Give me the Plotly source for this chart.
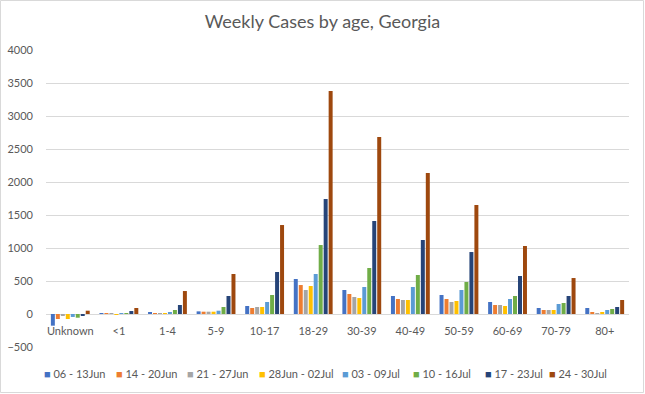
import plotly.graph_objects as go

categories = ["Unknown", "<1", "1-4", "5-9", "10-17", "18-29", "30-39", "40-49", "50-59", "60-69", "70-79", "80+"]
series_names = ["06 - 13Jun", "14 - 20Jun", "21 - 27Jun", "28Jun - 02Jul", "03 - 09Jul", "10 - 16Jul", "17 - 23Jul", "24 - 30Jul"]

w0613jun = [-177, 2, 30, 40, 121, 530, 364, 273, 288, 182, 91, 91]
w1420jun = [-76, 1, 15, 35, 91, 439, 303, 227, 227, 136, 61, 30]
w2127jun = [-25, 1, 15, 35, 106, 364, 258, 212, 182, 136, 61, 15]
w28jun02jul = [-76, -15, 15, 35, 106, 424, 242, 212, 197, 121, 61, 30]
w0309jul = [-45, 3, 20, 50, 182, 606, 409, 409, 364, 227, 152, 61]
w1016jul = [-56, 15, 61, 106, 288, 1045, 697, 591, 485, 273, 167, 76]
w1723jul = [-25, 45, 136, 273, 636, 1742, 1409, 1121, 939, 576, 273, 106]
w2430jul = [50, 91, 348, 606, 1348, 3379, 2682, 2136, 1652, 1030, 545, 212]

series_values = [w0613jun, w1420jun, w2127jun, w28jun02jul, w0309jul, w1016jul, w1723jul, w2430jul]
colors = ["#4472C4", "#ED7D31", "#A5A5A5", "#FFC000", "#5B9BD5", "#70AD47", "#264478", "#9E480E"]

W, H = 645, 394
L, R, T, B = 46, 16, 50, 47
PW, PH = W - L - R, H - T - B

fig = go.Figure()
for name, vals, col in zip(series_names, series_values, colors):
    fig.add_trace(go.Bar(x=categories, y=vals, name=name, marker=dict(color=col, line=dict(width=0))))

font_family = "Lato, 'Open Sans', sans-serif"

# custom legend row (Excel style: small square then label)
legend_px = [42, 114, 185, 257, 340, 411, 483, 547]
annotations = []
for name, col, px in zip(series_names, colors, legend_px):
    annotations.append(dict(
        xref="paper", yref="paper", x=(px - L) / PW, y=-(373 - (H - B)) / PH,
        xanchor="left", yanchor="middle", showarrow=False,
        text=f'<span style="color:{col}">■</span> {name}',
        font=dict(family=font_family, size=11, color="#595959"),
    ))

fig.update_layout(
    width=W, height=H,
    margin=dict(l=L, r=R, t=T, b=B, autoexpand=False),
    paper_bgcolor="white", plot_bgcolor="white",
    barmode="group", bargap=0.18, bargroupgap=0.2,
    title=dict(text="Weekly Cases by age, Georgia", x=0.5, xanchor="center",
               y=1 - 22 / H, yanchor="middle", yref="container",
               font=dict(family=font_family, size=18, color="#595959")),
    font=dict(family=font_family, size=11, color="#595959"),
    showlegend=False,
    xaxis=dict(anchor="free", position=500 / 4500, showline=False, showgrid=False, ticks="",
               tickfont=dict(size=11, color="#595959"), ticklabelstandoff=9),
    yaxis=dict(range=[-500, 4000], dtick=500, tick0=0, showgrid=True, gridcolor="#D9D9D9", gridwidth=1,
               zeroline=False, showline=False, ticks="", tickfont=dict(size=11, color="#595959"),
               ticklabelstandoff=12),
    annotations=annotations,
    shapes=[dict(type="rect", xref="paper", yref="paper",
                 x0=-(L - 0.5) / PW, x1=1 + (R - 1.5) / PW, y0=-(B - 1.5) / PH, y1=1 + (T - 0.5) / PH,
                 line=dict(color="#D9D9D9", width=1), fillcolor="rgba(0,0,0,0)", layer="below")],
)

fig.write_html("out.html", config={"displayModeBar": False},
               post_script="document.body.style.margin='0';document.body.style.overflow='hidden';")
